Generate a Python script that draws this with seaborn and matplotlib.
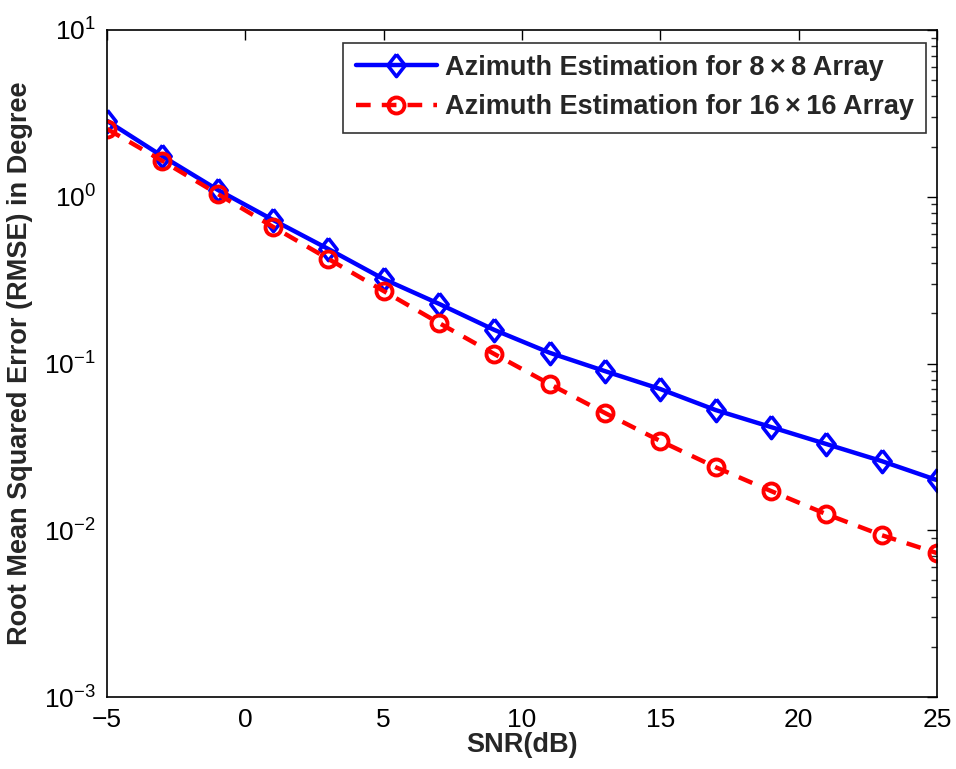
import numpy as np
import pandas as pd
import matplotlib
matplotlib.use("Agg")
import matplotlib.pyplot as plt
import seaborn as sns
from matplotlib.ticker import LogLocator, NullFormatter

snr = [-5, -3, -1, 1, 3, 5, 7, 9, 11, 13, 15, 17, 19, 21, 23, 25]
rmse_8x8 = [2.85, 1.75, 1.10, 0.726, 0.486, 0.321, 0.228, 0.159, 0.116, 0.090,
            0.0703, 0.0526, 0.0416, 0.0329, 0.0260, 0.0200]
rmse_16x16 = [2.55, 1.64, 1.04, 0.66, 0.424, 0.272, 0.175, 0.114, 0.0753, 0.0505,
              0.0343, 0.0239, 0.0172, 0.0125, 0.00935, 0.0073]
labels = ["Azimuth Estimation for 8\u2009\u00d7\u20098 Array",
          "Azimuth Estimation for 16\u2009\u00d7\u200916 Array"]

sns.set_style("white")
plt.rcParams['font.family'] = ['Liberation Sans', 'DejaVu Sans']
plt.rcParams['mathtext.fontset'] = 'custom'
plt.rcParams['mathtext.rm'] = 'Liberation Sans'
plt.rcParams['mathtext.bf'] = 'Liberation Sans:bold'

fig = plt.figure(figsize=(9.56, 7.69), dpi=100)
ax = fig.add_axes([0.112, 0.0936, 0.868, 0.8674])

df1 = pd.DataFrame({"snr": snr, "rmse": rmse_8x8})
df2 = pd.DataFrame({"snr": snr, "rmse": rmse_16x16})

diamond = [(0, 1), (0.78, 0), (0, -1), (-0.78, 0), (0, 1)]

sns.lineplot(data=df1, x="snr", y="rmse", ax=ax, color="#0000ff", lw=3.2,
             marker=diamond, markersize=16, markerfacecolor="none",
             markeredgecolor="#0000ff", markeredgewidth=2.6, label=labels[0])
sns.lineplot(data=df2, x="snr", y="rmse", ax=ax, color="#ff0000", lw=3.2,
             linestyle=(0, (3.3, 2.5)), marker="o", markersize=11.5, markerfacecolor="none",
             markeredgecolor="#ff0000", markeredgewidth=2.8, label=labels[1])

ax.set_yscale("log")
ax.set_xlim(-5, 25)
ax.set_ylim(1e-3, 1e1)
ax.set_xticks([-5, 0, 5, 10, 15, 20, 25])
ax.set_xticklabels(["\u22125", "0", "5", "10", "15", "20", "25"])
ax.yaxis.set_major_locator(LogLocator(base=10, numticks=10))
ax.yaxis.set_minor_locator(LogLocator(base=10, subs=np.arange(2, 10), numticks=20))
ax.yaxis.set_minor_formatter(NullFormatter())

ax.tick_params(axis="both", which="major", direction="in", length=7, width=1,
               labelsize=19, top=True, right=True, pad=8, colors="black")
ax.tick_params(axis="both", which="minor", direction="in", length=4, width=1,
               top=True, right=True)
for s in ax.spines.values():
    s.set_color("black")
    s.set_linewidth(1.2)

ax.set_xlabel("SNR(dB)", fontsize=19.5, fontweight="bold", labelpad=0)
ax.set_ylabel("Root Mean Squared Error (RMSE) in Degree", fontsize=19.5,
              fontweight="bold", labelpad=8)

leg = ax.legend(loc="upper right", bbox_to_anchor=(0.987, 0.981),
                prop={"weight": "bold", "size": 19.5}, frameon=True, fancybox=False,
                edgecolor="black", handlelength=3.0, borderpad=0.45,
                labelspacing=0.5, handletextpad=0.3, borderaxespad=0)
leg.get_frame().set_linewidth(1.2)

fig.savefig("out.png", dpi=100)
